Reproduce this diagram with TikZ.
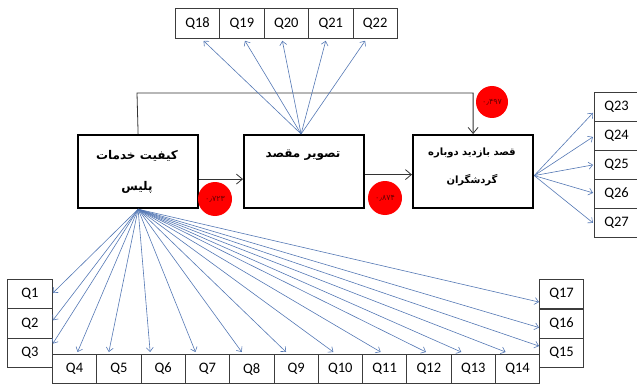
\documentclass[tikz,border=0pt]{standalone}
\usepackage{fontspec}
\setmainfont{Carlito}
\newfontfamily\fa[Script=Arabic]{DejaVu Sans}
\TeXXeTstate=1
\usetikzlibrary{arrows.meta,calc}
\definecolor{arrblue}{RGB}{84,120,180}
\definecolor{qgray}{RGB}{60,60,60}
\begin{document}
\begin{tikzpicture}[x=1pt,y=-1pt,
 qbox/.style={draw=qgray,line width=0.8pt,minimum width=44.3pt,minimum height=29.3pt,inner sep=0pt,font=\fontsize{14.5}{14.5}\selectfont,anchor=north west},
 mainbox/.style={draw=black,line width=2.2pt,minimum width=120pt,minimum height=73pt,inner sep=0pt,anchor=north west},
 qarrow/.style={draw=arrblue,line width=0.6pt,-{Straight Barb[length=4pt,width=7pt]}},
 flow/.style={draw=black!80,line width=0.8pt,-{Straight Barb[length=6pt,width=10pt]}},
 coef/.style={circle,fill=red,minimum size=34pt,inner sep=0pt,font=\fa\fontsize{8}{8}\selectfont,text=black!60!red},
 fatext/.style={font=\fa\bfseries\fontsize{12}{12}\selectfont},
 fatextb/.style={font=\fa\bfseries\fontsize{10}{10}\selectfont}
]
\useasboundingbox (0,0) rectangle (637,385);
% main boxes
\node[mainbox] (b1) at (77,134) {};
\node[mainbox] (b2) at (243,134) {};
\node[mainbox] (b3) at (412,134) {};
\node[fatext] (t1a) at (137,156) {\beginR کیفیت خدمات\endR};
\node[fatext] (t1b) at (137,187) {\beginR پلیس\endR};
\node[fatext] (t2) at (303,155) {\beginR تصویر مقصد\endR};
\node[fatextb] (t3a) at (472,153) {\beginR قصد بازدید دوباره\endR};
\node[fatextb] (t3b) at (472,180) {\beginR گردشگران\endR};
% flows
\draw[flow] ([yshift=-7.5pt]b1.east) -- ([yshift=-7.5pt]b2.west);
\draw[flow] ([yshift=-3pt]b2.east) -- ([yshift=-3pt]b3.west);
\coordinate (topc) at (137,93);
\draw[flow] (b1.north) -- (topc) -| (b3.north);
% coefficients
\node[coef] (c1) at (215,199) {۰٫۷۲۳};
\node[coef] (c2) at (385,198) {۰٫۸۷۴};
\node[coef,minimum size=32pt] (c3) at (492,102) {۰٫۴۹۷};
% top Q boxes
\foreach \i in {18,...,22}{
  \node[qbox,minimum height=30pt] (Q\i) at ({175+(\i-18)*44.4},8) {Q\i};
}
% right Q boxes
\foreach \i in {23,...,27}{
  \node[qbox,minimum height=29pt] (Q\i) at ({594},{92+(\i-23)*29}) {Q\i};
}
% left Q boxes
\foreach \i in {1,2,3}{
  \node[qbox,minimum width=45pt] (Q\i) at (7,{279+(\i-1)*29.3}) {Q\i};
}
% bottom Q boxes
\foreach \i in {4,...,14}{
  \node[qbox] (Q\i) at ({52+(\i-4)*44.3},354) {Q\i};
}
\node[qbox] (Q17) at (539,279) {Q17};
\node[qbox] (Q16) at (539,308.5) {Q16};
\node[qbox] (Q15) at (539,338) {Q15};
% arrows from b1
\draw[qarrow] (b1.south) -- ([yshift=1pt]Q1.east);
\draw[qarrow] (b1.south) -- ([yshift=3pt]Q2.east);
\draw[qarrow] (b1.south) -- ([yshift=9pt]Q3.east);
\foreach \q/\dx in {4/3,5/-10,6/-13,7/-12,8/-10,9/-10,10/-7,11/-4,12/-3,13/-12,14/-12}{
  \draw[qarrow] (b1.south) -- ([xshift=\dx pt,yshift=2pt]Q\q.north);
}
\draw[qarrow] (b1.south) -- ([yshift=-8pt]Q17.west);
\draw[qarrow] (b1.south) -- ([yshift=-4pt]Q16.west);
\draw[qarrow] (b1.south) -- ([yshift=7pt]Q15.west);
% arrows from b2
\foreach \q/\dx in {18/6,19/3,20/-4,21/-5,22/-10}{
  \draw[qarrow] ([xshift=-3pt]b2.north) -- ([xshift=\dx pt,yshift=-2pt]Q\q.south);
}
% arrows from b3
\foreach \q/\dy in {23/-6,24/-1,25/0,26/1,27/0}{
  \draw[qarrow] ([yshift=-4pt]b3.east) -- ([yshift=\dy pt,xshift=-1pt]Q\q.west);
}
\end{tikzpicture}
\end{document}
